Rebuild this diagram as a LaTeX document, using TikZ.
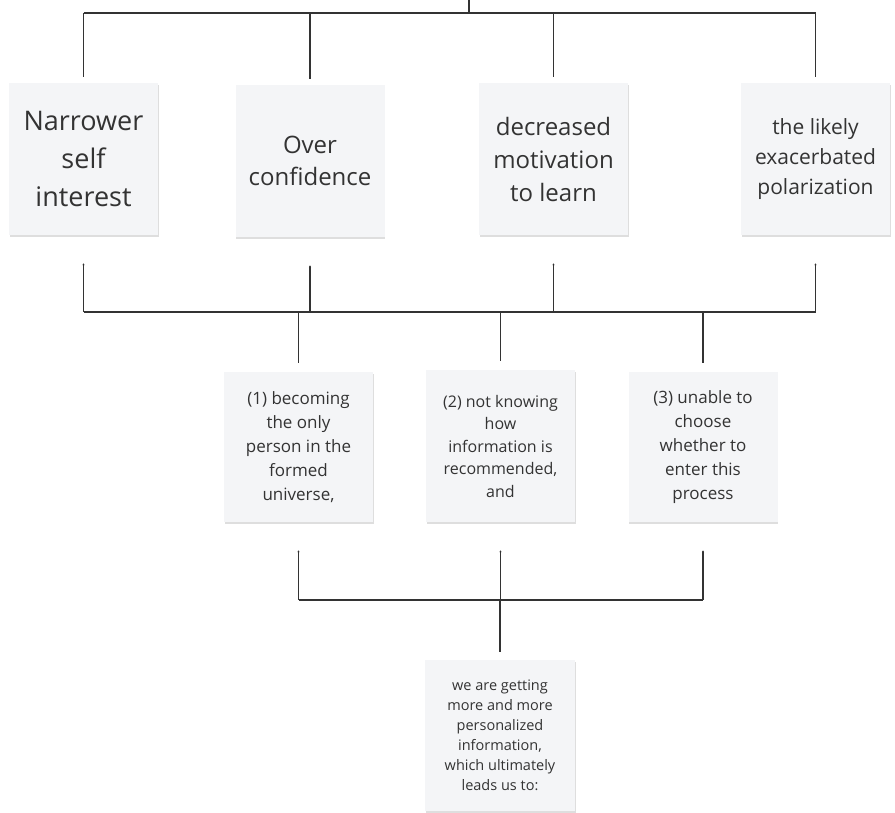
\documentclass[tikz,border=0pt]{standalone}
\usepackage{fontspec}
\setmainfont{Open Sans}
\usepackage{xcolor}
\usetikzlibrary{arrows.meta,shadows}
\definecolor{boxgray}{HTML}{F4F5F7}
\definecolor{ink}{HTML}{333333}

\begin{document}
\begin{tikzpicture}[x=1pt,y=-1pt,box/.style={fill=boxgray,text=ink,align=center,
inner sep=0pt,minimum width=149pt,minimum height=152pt,drop shadow={shadow
xshift=0.6pt,shadow yshift=-1.6pt,fill=black,opacity=0.13}},ln/.style={draw=ink,
line width=1.2pt},arr/.style={ln,-{Latex[length=2pt,width=2.4pt]}}]
\useasboundingbox (0,0) rectangle (895,812);
% effects
\node[box,font=\fontsize{27}{38}\selectfont] (n1) at (83.5,159) {Narrower\\self\\interest};
\node[box,font=\fontsize{24}{32}\selectfont] (n2) at (310,161) {Over\\confidence};
\node[box,font=\fontsize{24}{33}\selectfont] (n3) at (553.5,159) {decreased\\motivation\\to learn};
\node[box,font=\fontsize{21}{30}\selectfont] (n4) at (815.5,159) {the likely\\exacerbated\\polarization};
% causes
\node[box,minimum height=150pt,font=\fontsize{17}{24}\selectfont] (m1) at (298.5,447)
  {(1) becoming\\the only\\person in the\\formed\\universe,};
\node[box,minimum height=152pt,font=\fontsize{16}{22.5}\selectfont] (m2) at (500.5,446)
  {(2) not knowing\\how\\information is\\recommended,\\and};
\node[box,minimum height=150pt,font=\fontsize{17}{24}\selectfont] (m3) at (703,447)
  {(3) unable to\\choose\\whether to\\enter this\\process};
% source
\node[box,minimum width=150pt,minimum height=151pt,font=\fontsize{14.5}{20}\selectfont] (b) at (500,735.5)
  {we are getting\\more and more\\personalized\\information,\\which ultimately\\leads us to:};
% connectors
\coordinate (root) at (469,0);
\coordinate (bus1) at (469,13);
\coordinate (bus2) at (499,312);
\coordinate (bus3) at (500,600);
\draw[ln] (root) -- (bus1);
\draw[ln] (n1.north |- bus1) -- (n4.north |- bus1);
\foreach \n in {n1,n2,n3,n4}
  \draw[ln] (\n.north |- bus1) -- ([yshift=6pt]\n.north);
\draw[ln] (n1.south |- bus2) -- (n4.south |- bus2);
\foreach \n in {n1,n2,n3,n4}
  \draw[arr] (\n.south |- bus2) -- ([yshift=-28pt]\n.south);
\foreach \m in {m1,m2,m3}
  \draw[ln] (\m.north |- bus2) -- ([yshift=9pt]\m.north);
\draw[ln] (m1.south |- bus3) -- (m3.south |- bus3);
\foreach \m in {m1,m2,m3}
  \draw[arr] (\m.south |- bus3) -- ([yshift=-28pt]\m.south);
\draw[ln] (b.north |- bus3) -- ([yshift=8pt]b.north);
\end{tikzpicture}
\end{document}
